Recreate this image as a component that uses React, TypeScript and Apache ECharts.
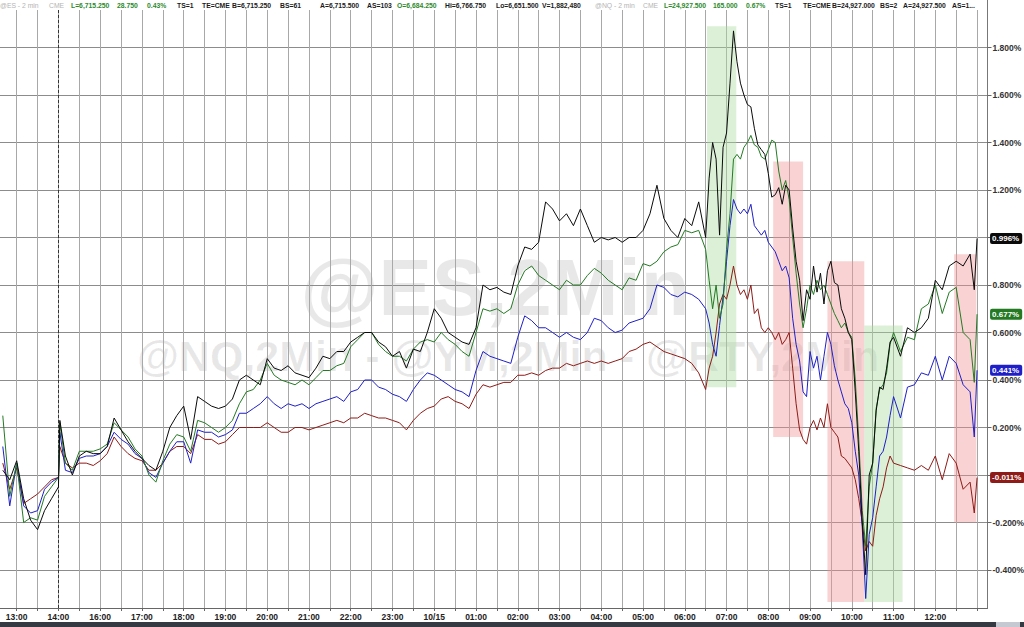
import React, { useEffect, useRef } from "react";
import * as echarts from "echarts";

// ---- sampling grid: minutes on the session timeline, counted from 12:30 (trading break removed)
// [first, last, step]
const SAMPLE_SEGMENTS: number[][] = [
  [10, 90, 10],
  [92, 92, 1],
  [100, 1020, 10],
  [1025, 1290, 5],
  [1300, 1400, 10],
  [1406, 1406, 1],
  [1410, 1410, 1],
];

// hour labels of the bottom axis (one per full hour gridline, starting at 13:00)
const HOUR_LABELS = [
  "13:00", "14:00", "16:00", "17:00", "18:00", "19:00", "20:00", "21:00", "22:00", "23:00",
  "10/15", "01:00", "02:00", "03:00", "04:00", "05:00", "06:00", "07:00", "08:00", "09:00",
  "10:00", "11:00", "12:00",
];

// ---- % change series
const BLACK = [
  0.02, -0.02, 0.06, -0.1, -0.19, -0.23, -0.15, -0.1, -0.05,
  0.23,
  0.08, 0.0, 0.08, 0.1, 0.09, 0.09, 0.12, 0.24, 0.19, 0.14,
  0.1, 0.07, 0.04, 0.02, 0.1, 0.2, 0.25, 0.29, 0.15, 0.33,
  0.31, 0.29, 0.28, 0.29, 0.32, 0.4, 0.42, 0.4, 0.38, 0.49,
  0.45, 0.44, 0.46, 0.43, 0.42, 0.41, 0.45, 0.5, 0.49, 0.52,
  0.52, 0.56, 0.58, 0.6, 0.6, 0.56, 0.54, 0.5, 0.52, 0.45,
  0.53, 0.52, 0.6, 0.7, 0.66, 0.6, 0.58, 0.56, 0.55, 0.62,
  0.8, 0.78, 0.79, 0.77, 0.76, 0.88, 0.96, 0.95, 0.98, 1.15,
  1.12, 1.07, 1.1, 1.05, 1.12, 1.05, 0.98, 1.0, 0.99, 1.0,
  0.98, 1.0, 1.0, 1.03, 1.1, 1.22, 1.08, 1.03, 1.0, 1.08,
  1.05, 1.15, 1.0,
  1.25, 1.4, 1.33, 1.01, 1.38, 1.44, 1.65, 1.87, 1.74, 1.65,
  1.6, 1.56, 1.55, 1.46, 1.39, 1.37, 1.35, 1.27, 1.17, 1.18,
  1.21, 1.14, 1.22, 1.2, 1.04, 0.9, 0.82, 0.65, 0.78, 0.74,
  0.88, 0.77, 0.85, 0.72, 0.86, 0.9, 0.81, 0.8, 0.7, 0.66,
  0.6, 0.57, 0.35, 0.1, -0.2, -0.42, 0.0, 0.05, 0.27, 0.37,
  0.36, 0.45, 0.56, 0.58,
  0.5, 0.62, 0.6, 0.62, 0.66, 0.82, 0.78, 0.88, 0.9, 0.88, 0.93,
  0.78, 0.996,
];

const GREEN = [
  0.25, -0.09, 0.05, -0.2, -0.18, -0.19, -0.09, -0.05, -0.01,
  0.22,
  0.05, 0.02, 0.1, 0.1, 0.1, 0.11, 0.13, 0.22, 0.19, 0.16,
  0.11, 0.08, 0.0, -0.03, 0.06, 0.13, 0.17, 0.16, 0.1, 0.23,
  0.22, 0.2, 0.18, 0.2, 0.23, 0.3, 0.35, 0.36, 0.4, 0.47,
  0.42, 0.4, 0.39, 0.38, 0.4, 0.38, 0.41, 0.44, 0.44, 0.46,
  0.47, 0.54, 0.57, 0.6, 0.6, 0.55, 0.52, 0.5, 0.5, 0.48,
  0.53, 0.56, 0.57, 0.56, 0.6, 0.57, 0.55, 0.52, 0.5, 0.6,
  0.7, 0.69, 0.7, 0.68, 0.7, 0.8, 0.86, 0.88, 0.84, 0.82,
  0.8, 0.78, 0.82, 0.8, 0.8, 0.84, 0.87, 0.85, 0.82, 0.8,
  0.78, 0.83, 0.82, 0.89, 0.88, 0.9, 0.94, 0.96, 0.97, 1.03,
  1.02, 1.03, 0.95,
  0.82, 0.7, 0.8, 0.66, 0.72, 0.95, 1.1, 1.33, 1.35, 1.33,
  1.38, 1.4, 1.43, 1.39, 1.38, 1.34, 1.33, 1.37, 1.41, 1.4,
  1.28, 1.2, 1.24, 1.16, 1.0, 0.85, 0.72, 0.62, 0.7, 0.8,
  0.76, 0.82, 0.78, 0.8, 0.76, 0.72, 0.68, 0.65, 0.62, 0.64,
  0.6, 0.58, 0.4, 0.15, -0.15, -0.3, -0.05, 0.05, 0.28, 0.36,
  0.38, 0.43, 0.55, 0.6,
  0.52, 0.58, 0.57, 0.7, 0.72, 0.8, 0.68, 0.77, 0.79, 0.6, 0.57,
  0.39, 0.677,
];

const BLUE = [
  0.12, -0.13, 0.05, -0.13, -0.16, -0.15, -0.06, -0.03, -0.01,
  0.18,
  0.02, 0.01, 0.07, 0.08, 0.08, 0.09, 0.12, 0.18, 0.15, 0.13,
  0.09, 0.07, 0.01, -0.01, 0.05, 0.1, 0.14, 0.14, 0.05, 0.19,
  0.18, 0.18, 0.16, 0.17, 0.19, 0.26, 0.26, 0.28, 0.3, 0.33,
  0.3, 0.28, 0.3, 0.29, 0.3, 0.28, 0.3, 0.31, 0.32, 0.33,
  0.31, 0.35, 0.36, 0.4, 0.4, 0.37, 0.36, 0.34, 0.33, 0.31,
  0.36, 0.4, 0.43, 0.42, 0.4, 0.38, 0.36, 0.35, 0.33, 0.44,
  0.52, 0.5, 0.49, 0.48, 0.47, 0.58, 0.67, 0.65, 0.62, 0.62,
  0.6, 0.58, 0.6, 0.58, 0.57, 0.6, 0.66, 0.65, 0.62, 0.6,
  0.61, 0.64, 0.65, 0.66, 0.7, 0.8, 0.79, 0.76, 0.75, 0.77,
  0.76, 0.74, 0.7,
  0.64, 0.55, 0.5, 0.63, 0.75, 0.9, 1.05, 1.16, 1.12, 1.1,
  1.12, 1.1, 1.14, 1.05, 1.03, 1.01, 1.03, 0.98, 0.96, 0.94,
  0.9, 0.86, 0.88, 0.83, 0.66, 0.55, 0.48, 0.35, 0.33, 0.52,
  0.45, 0.5, 0.4, 0.5, 0.6, 0.55, 0.46, 0.4, 0.35, 0.3,
  0.28, 0.22, 0.1, 0.0, -0.22, -0.52, -0.25, -0.18, -0.05, 0.08,
  0.1, 0.16, 0.25, 0.33,
  0.24, 0.37, 0.38, 0.43, 0.42, 0.5, 0.4, 0.5, 0.47, 0.38, 0.35,
  0.16, 0.441,
];

const RED = [
  0.05, -0.06, 0.03, -0.12, -0.1, -0.08, -0.05, -0.02, -0.01,
  0.12,
  0.05, 0.03, 0.05, 0.05, 0.04, 0.06, 0.09, 0.16, 0.12, 0.09,
  0.07, 0.06, 0.02, 0.02, 0.05, 0.1, 0.12, 0.12, 0.09, 0.17,
  0.15, 0.15, 0.13, 0.14, 0.17, 0.2, 0.2, 0.2, 0.2, 0.22,
  0.2, 0.18, 0.18, 0.2, 0.2, 0.19, 0.2, 0.21, 0.22, 0.23,
  0.22, 0.24, 0.24, 0.26, 0.25, 0.24, 0.24, 0.23, 0.22, 0.19,
  0.23, 0.26, 0.28, 0.29, 0.32, 0.33, 0.31, 0.3, 0.28, 0.34,
  0.38, 0.37, 0.38, 0.39, 0.39, 0.42, 0.42, 0.43, 0.42, 0.44,
  0.45, 0.45, 0.47, 0.46, 0.47, 0.48, 0.47, 0.48, 0.47, 0.48,
  0.49, 0.52, 0.53, 0.55, 0.56, 0.54, 0.52, 0.51, 0.5, 0.49,
  0.47, 0.43, 0.36,
  0.45, 0.5, 0.6, 0.72, 0.76, 0.74, 0.8, 0.88, 0.8, 0.76,
  0.78, 0.74, 0.8, 0.68, 0.7, 0.62, 0.6, 0.62, 0.6, 0.57,
  0.6, 0.55, 0.57, 0.6, 0.45, 0.3, 0.19, 0.15, 0.13, 0.2,
  0.23, 0.19, 0.24, 0.2, 0.3, 0.2, 0.18, 0.16, 0.08, 0.07,
  0.05, 0.03, -0.02, -0.1, -0.2, -0.32, -0.28, -0.3, -0.17, -0.1,
  -0.05, 0.03, 0.08, 0.05,
  0.04, 0.03, 0.02, 0.04, 0.02, 0.08, -0.02, 0.09, 0.05, -0.06, -0.03,
  -0.16, -0.011,
];

// highlighted zones: [kind, fromMinute, toMinute, low%, high%]
const ZONES: [string, number, number, number, number][] = [
  ["up", 1022, 1064, 0.37, 1.89],
  ["down", 1117, 1160, 0.16, 1.32],
  ["down", 1195, 1248, -0.535, 0.9],
  ["up", 1248, 1303, -0.535, 0.63],
  ["down", 1377, 1409, -0.2, 0.93],
];

const SESSION_MARK = 90; // dashed line at 14:00

// header ticker text: [text, colourKey, left]
const HEADER: [string, string, number][] = [
  ["@ES - 2 min", "g", 0], ["CME", "g", 49], ["L=6,715.250", "p", 71], ["28.750", "p", 117],
  ["0.43%", "p", 147], ["TS=1", "k", 177], ["TE=CME", "k", 202], ["B=6,715.250", "k", 232],
  ["BS=61", "k", 280], ["A=6,715.500", "k", 320], ["AS=103", "k", 367], ["O=6,684.250", "p", 397],
  ["Hi=6,766.750", "k", 445], ["Lo=6,651.500", "k", 496], ["V=1,882,480", "k", 542],
  ["@NQ - 2 min", "g", 595], ["CME", "g", 643], ["L=24,927.500", "p", 664], ["165.000", "p", 713],
  ["0.67%", "p", 746], ["TS=1", "k", 775], ["TE=CME", "k", 803], ["B=24,927.000", "k", 832],
  ["BS=2", "k", 880], ["A=24,927.500", "k", 903], ["AS=1...", "k", 952],
];

const FONT = 'Arial, "Liberation Sans", sans-serif';

function buildOption() {
  const minutes: number[] = [];
  for (const [a, b, s] of SAMPLE_SEGMENTS) for (let m = a; m <= b; m += s) minutes.push(m);

  const seriesDefs = [
    { name: "RED", values: RED, color: "#8e1b17" },
    { name: "BLUE", values: BLUE, color: "#1f1fc8" },
    { name: "GREEN", values: GREEN, color: "#237a23" },
    { name: "BLACK", values: BLACK, color: "#0a0a0a" },
  ];
  const lastValues = seriesDefs.map((d) => d.values[d.values.length - 1]);

  const series: any[] = seriesDefs.map((d, idx) => ({
    name: d.name,
    type: "line",
    data: minutes.map((m, i) => [m, d.values[i]]),
    showSymbol: false,
    symbol: "none",
    z: 3 + idx,
    lineStyle: { color: d.color, width: 1 },
    itemStyle: { color: d.color },
    emphasis: { disabled: true },
    endLabel: {
      show: true,
      distance: 13,
      formatter: (p: any) => p.value[1].toFixed(3) + "%",
      backgroundColor: d.color,
      color: "#fff",
      fontFamily: FONT,
      fontSize: 8,
      fontWeight: "bold",
      padding: [2, 3, 1, 2],
      borderRadius: 2,
    },
  }));

  series.push({
    name: "zones",
    type: "line",
    data: [],
    z: 1,
    silent: true,
    markArea: {
      silent: true,
      data: ZONES.map(([kind, a, b, lo, hi]) => [
        { xAxis: a, yAxis: lo, itemStyle: { color: kind === "up" ? "rgba(170,220,160,0.42)" : "rgba(240,150,150,0.42)" } },
        { xAxis: b, yAxis: hi },
      ]),
    },
    markLine: {
      silent: true,
      symbol: "none",
      label: { show: false },
      lineStyle: { type: [3, 2], color: "#333", width: 1 },
      data: [{ xAxis: SESSION_MARK }],
    },
  });

  const headerColors: Record<string, string> = { g: "#b4b4b4", p: "#2c8a2c", k: "#1a1a1a" };

  const graphic: any[] = [
    {
      type: "text", x: 495, y: 287, z: -5, silent: true,
      style: { text: "@ES,2Min", fill: "rgba(0,0,0,0.09)", font: `bold 80px ${FONT}`, textAlign: "center", textVerticalAlign: "middle" },
    },
    {
      type: "text", x: 508, y: 356, z: -5, silent: true,
      style: { text: "@NQ,2Min - @YM,2Min - @RTY,2Min", fill: "rgba(0,0,0,0.09)", font: `bold 43px ${FONT}`, textAlign: "center", textVerticalAlign: "middle" },
    },
    { type: "rect", z: 100, silent: true, shape: { x: 0, y: 0, width: 987, height: 10 }, style: { fill: "#fff" } },
    ...HEADER.map(([t, c, x]) => ({
      type: "text", x, y: 5.5, z: 101, silent: true,
      style: { text: t, fill: headerColors[c], font: `${c === "g" ? "normal" : "bold"} 6.8px ${FONT}`, textVerticalAlign: "middle" },
    })),
    { type: "rect", z: 100, silent: true, shape: { x: 0, y: 622, width: 1024, height: 5 }, style: { fill: "#353a42" } },
    { type: "rect", z: 101, silent: true, shape: { x: 996, y: 622, width: 24, height: 5 }, style: { fill: "#c5cad2" } },
  ];

  return {
    animation: false,
    backgroundColor: "#fff",
    grid: { left: 0, right: 36.5, top: 0, bottom: 19, containLabel: false, outerBoundsMode: "none" },
    xAxis: {
      type: "value",
      min: 6,
      max: 1425,
      minInterval: 30,
      maxInterval: 30,
      axisLine: { show: true, onZero: false, lineStyle: { color: "#666", width: 1 } },
      axisTick: { show: true, length: 3, lineStyle: { color: "#666" } },
      axisLabel: {
        show: true,
        interval: 0,
        hideOverlap: false,
        showMinLabel: false,
        showMaxLabel: false,
        margin: 4,
        color: "#222",
        fontFamily: FONT,
        fontSize: 8.5,
        fontWeight: "bold",
        formatter: (v: number) => {
          const k = (v - 30) / 60;
          return Number.isInteger(k) && k >= 0 && k < HOUR_LABELS.length ? HOUR_LABELS[k] : "";
        },
      },
      splitLine: { show: true, showMinLine: false, showMaxLine: false, lineStyle: { color: "#a8a8a8", width: 1 } },
    },
    yAxis: {
      type: "value",
      position: "right",
      min: -0.56,
      max: 2.0,
      splitNumber: 12,
      minInterval: 0.2,
      maxInterval: 0.2,
      axisLine: { show: true, lineStyle: { color: "#777", width: 1 } },
      axisTick: { show: true, length: 4, lineStyle: { color: "#666" } },
      axisLabel: {
        show: true,
        showMinLabel: false,
        showMaxLabel: false,
        margin: 5,
        color: "#333",
        fontFamily: FONT,
        fontSize: 8.5,
        fontWeight: "bold",
        formatter: (v: number) => {
          if (lastValues.some((lv) => Math.abs(lv - v) < 0.03)) return "";
          return v.toFixed(3) + "%";
        },
      },
      splitLine: { show: true, showMinLine: false, showMaxLine: false, lineStyle: { color: "#8c8c8c", width: 1 } },
    },
    graphic,
    series,
  };
}

export default function App() {
  const ref = useRef<HTMLDivElement>(null);
  useEffect(() => {
    document.body.style.margin = "0";
    const chart = echarts.init(ref.current as HTMLDivElement, null, { renderer: "svg" });
    chart.setOption(buildOption() as any);
    return () => chart.dispose();
  }, []);
  return (
    <div
      ref={ref}
      style={{ position: "fixed", left: 0, top: 0, width: 1024, height: 627, background: "#fff" }}
    />
  );
}
